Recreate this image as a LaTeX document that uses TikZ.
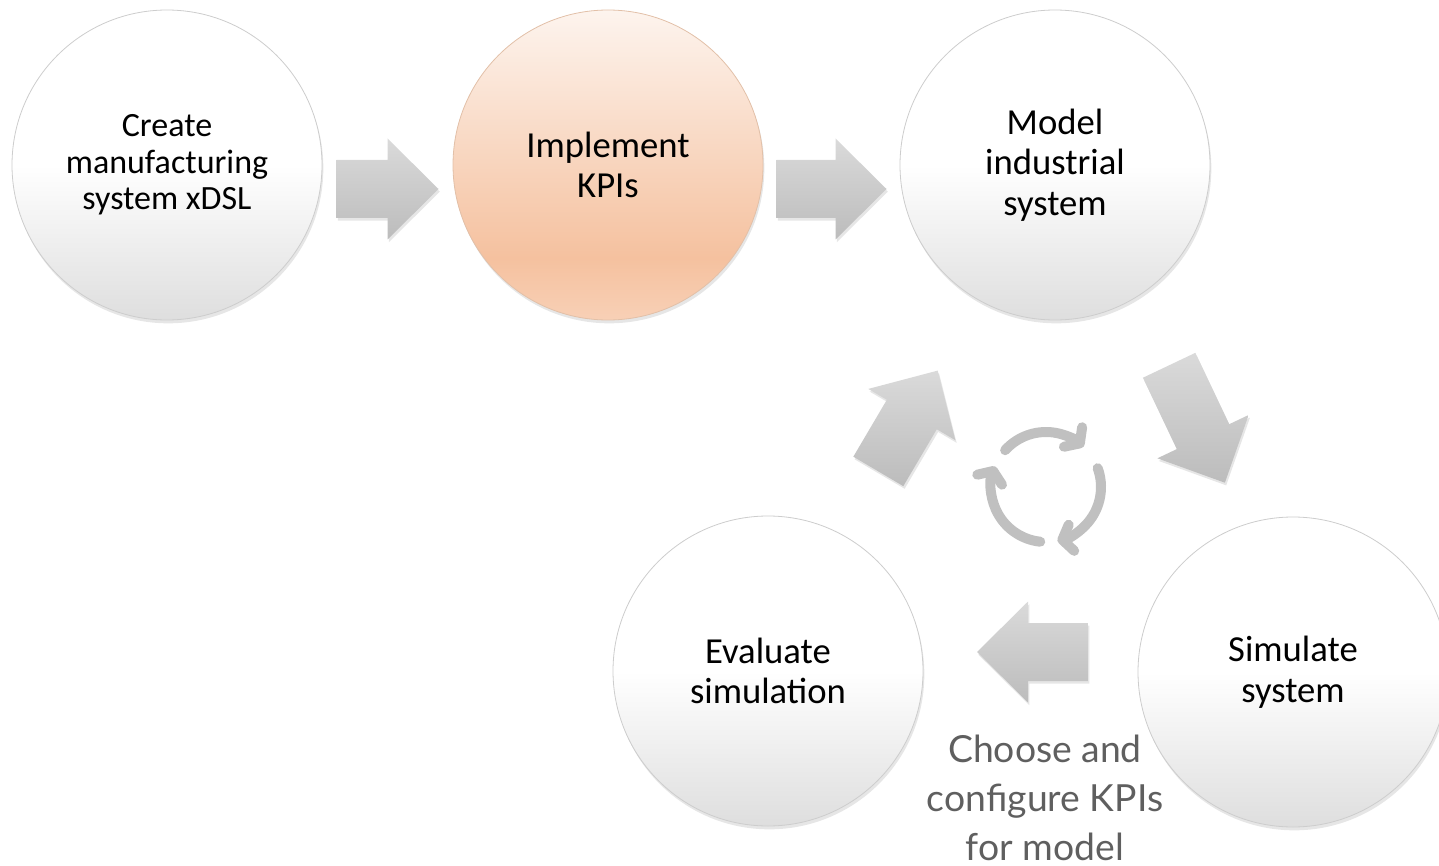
\documentclass[tikz,border=0pt]{standalone}
\usepackage{fontspec}
\setmainfont{Carlito}
\newfontfamily\notefont{Lato}
\usetikzlibrary{arrows.meta,shadows,calc}

\definecolor{stepborder}{RGB}{205,205,205}
\definecolor{stepbottom}{RGB}{222,222,222}
\definecolor{peachtop}{RGB}{253,244,238}
\definecolor{peachbottom}{RGB}{245,193,159}
\definecolor{peachlow}{RGB}{248,208,182}
\definecolor{peachborder}{RGB}{226,192,168}
\definecolor{arrowtop}{RGB}{218,218,218}
\definecolor{arrowbottom}{RGB}{188,188,188}
\definecolor{cyclegray}{RGB}{192,192,192}
\definecolor{notegray}{RGB}{95,95,95}

% white circle, grey only towards the bottom
\pgfdeclareverticalshading{stepshade}{100bp}{color(0bp)=(stepbottom); color(25bp)=(stepbottom); color(50bp)=(white); color(100bp)=(white)}
\pgfdeclareverticalshading{peachshade}{100bp}{color(0bp)=(peachlow); color(25bp)=(peachlow); color(35bp)=(peachbottom); color(75bp)=(peachtop); color(100bp)=(peachtop)}

\tikzset{
	stepnode/.style={circle, minimum size=232.5pt, inner sep=0pt, draw=stepborder, line width=0.6pt,
		shading=stepshade, align=center, font=\fontsize{27.5}{30.5}\selectfont,
		drop shadow={opacity=0.2, shadow xshift=1pt, shadow yshift=-2.5pt}},
	kpinode/.style={stepnode, shading=peachshade, draw=peachborder},
	notetext/.style={align=center, text=notegray, font=\notefont\fontsize{28}{37}\selectfont},
	cyclearc/.style={draw=cyclegray, line width=7.5pt, line cap=round,
		-{Straight Barb[round,length=7pt,width=20pt]}},
	pics/blockarrow/.style n args={2}{code={
		\path[rotate=#2, top color=arrowtop, bottom color=arrowbottom,
			drop shadow={opacity=0.2, shadow xshift=1pt, shadow yshift=-2pt}]
			({-#1/2},-29) -- ({#1/2-51},-29) -- ({#1/2-51},-50.5) -- ({#1/2},0)
			-- ({#1/2-51},50.5) -- ({#1/2-51},29) -- ({-#1/2},29) -- cycle;
	}}
}

\begin{document}
\begin{tikzpicture}[x=0.75pt,y=0.75pt,yscale=-1,xscale=1]
	\useasboundingbox (0,0) rectangle (1439,866);

	% steps
	\node[stepnode, font=\fontsize{25.5}{27.5}\selectfont] (create) at (167,165) {Create\\manufacturing\\system xDSL};
	\node[kpinode] (kpis) at (608,165) {Implement\\KPIs};
	\node[stepnode] (model) at (1055,165) {Model\\industrial\\system};
	\node[stepnode] (simulate) at (1293,672) {Simulate\\system};
	\node[stepnode] (evaluate) at (768,671) {Evaluate\\simulation};

	% block arrows
	\pic at ($(create)!0.5!(kpis)+(0,24)$) {blockarrow={102}{0}};
	\pic at ($(kpis)!0.5!(model)+(0,24)$) {blockarrow={110}{0}};
	\pic at ($(model)!0.5!(simulate)+(23,5.5)$) {blockarrow={130}{-64.6}};
	\pic at ($(evaluate)!0.5!(simulate)+(2,-19.5)$) {blockarrow={111}{180}};
	\pic at ($(evaluate)!0.5!(model)+(-3.5,3)$) {blockarrow={117}{59.5}};

	% cycle icon
	\coordinate (cyc) at (1046,487);
	\draw[cyclearc] ([shift={(-138:55)}]cyc) arc[start angle=-138, end angle=-47, radius=55];
	\draw[cyclearc] ([shift={(-20:55)}]cyc) arc[start angle=-20, end angle=78, radius=55];
	\draw[cyclearc] ([shift={(96:55)}]cyc) arc[start angle=96, end angle=202, radius=55];

	\node[notetext] (note) at (1045,798) {Choose and\\configure KPIs\\for model};
\end{tikzpicture}
\end{document}
